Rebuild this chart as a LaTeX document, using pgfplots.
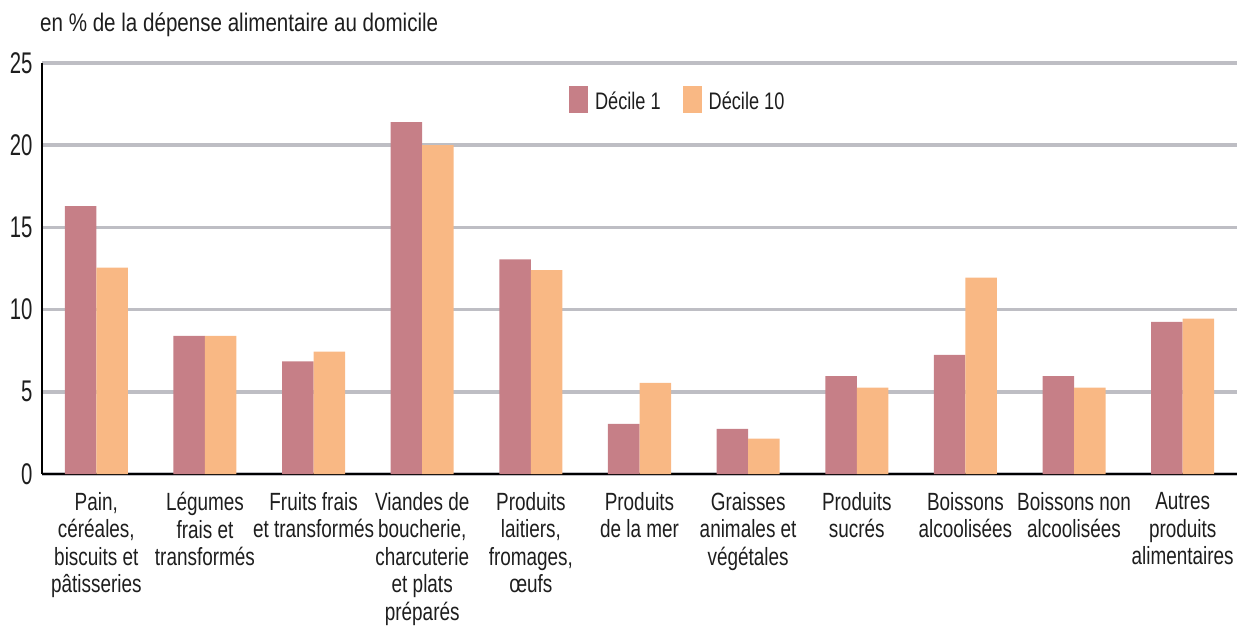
\documentclass[border=0pt]{standalone}
\usepackage{fontspec}
\setmainfont{Liberation Sans}[FakeStretch=0.76]
\newfontfamily\titlefont{Liberation Sans}[FakeStretch=0.81]
\newfontfamily\tickfont{Liberation Sans}[FakeStretch=0.68]
\usepackage{pgfplots}
\pgfplotsset{compat=1.18}
\definecolor{dOne}{RGB}{198,127,135}
\definecolor{dTen}{RGB}{249,184,132}
\definecolor{gridc}{RGB}{190,190,196}
\definecolor{txt}{RGB}{30,30,30}
\begin{document}
\begin{tikzpicture}
\useasboundingbox (-42bp,-156bp) rectangle (1207bp,474bp);
\begin{axis}[
  scale only axis, width=1195bp, height=411bp,
  at={(0,0)}, anchor=south west,
  xmin=-0.5, xmax=10.5, ymin=0, ymax=25,
  ytick={0,5,10,15,20,25},
  xtick={0,1,2,3,4,5,6,7,8,9,10},
  xticklabels={{Pain,\\céréales,\\biscuits et\\pâtisseries},
    {Légumes\\frais et\\transformés},
    {Fruits frais\\et transformés},
    {Viandes de\\boucherie,\\charcuterie\\et plats\\préparés},
    {Produits\\laitiers,\\fromages,\\œufs},
    {Produits\\de la mer},
    {Graisses\\animales et\\végétales},
    {Produits\\sucrés},
    {Boissons\\alcoolisées},
    {Boissons non\\alcoolisées},
    {Autres\\produits\\alimentaires}},
  axis x line*=bottom, axis y line*=left,
  axis line style={-, line width=1.6bp, black},
  ymajorgrids, grid style={gridc, line width=3.5bp},
  major tick length=0pt,
  xticklabel style={font=\fontsize{25}{27.5}\selectfont, text=txt, align=center, anchor=north, yshift=-15bp},
  yticklabel style={font=\tickfont\fontsize{30}{32}\selectfont, text=txt, anchor=east, xshift=-6bp},
  /pgf/number format/assume math mode=true,
  ybar, bar width=0.29,
  legend columns=2,
  legend style={at={(0.532,0.91)}, anchor=center, draw=none, fill=none,
    font=\fontsize{24}{26}\selectfont, text=txt,
    /tikz/every even column/.append style={column sep=20bp},
    /tikz/every odd column/.append style={column sep=5bp}},
  legend image code/.code={\fill[#1] (0bp,-12bp) rectangle (19bp,15bp);},
]
\addplot[fill=dOne, draw=none, bar shift=-0.145] coordinates {
 (0,16.3) (1,8.4) (2,6.85) (3,21.4) (4,13.05) (5,3.05) (6,2.75) (7,5.95) (8,7.25) (9,5.95) (10,9.25)};
\addplot[fill=dTen, draw=none, bar shift=0.145] coordinates {
 (0,12.55) (1,8.4) (2,7.45) (3,20.0) (4,12.4) (5,5.55) (6,2.15) (7,5.25) (8,11.95) (9,5.25) (10,9.45)};
\legend{Décile 1, Décile 10}
\end{axis}
\node[anchor=base west, font=\titlefont\fontsize{25.5}{28}\selectfont, text=txt, inner sep=0pt] at (-2bp,442bp) {en \% de la dépense alimentaire au domicile};
\end{tikzpicture}
\end{document}
